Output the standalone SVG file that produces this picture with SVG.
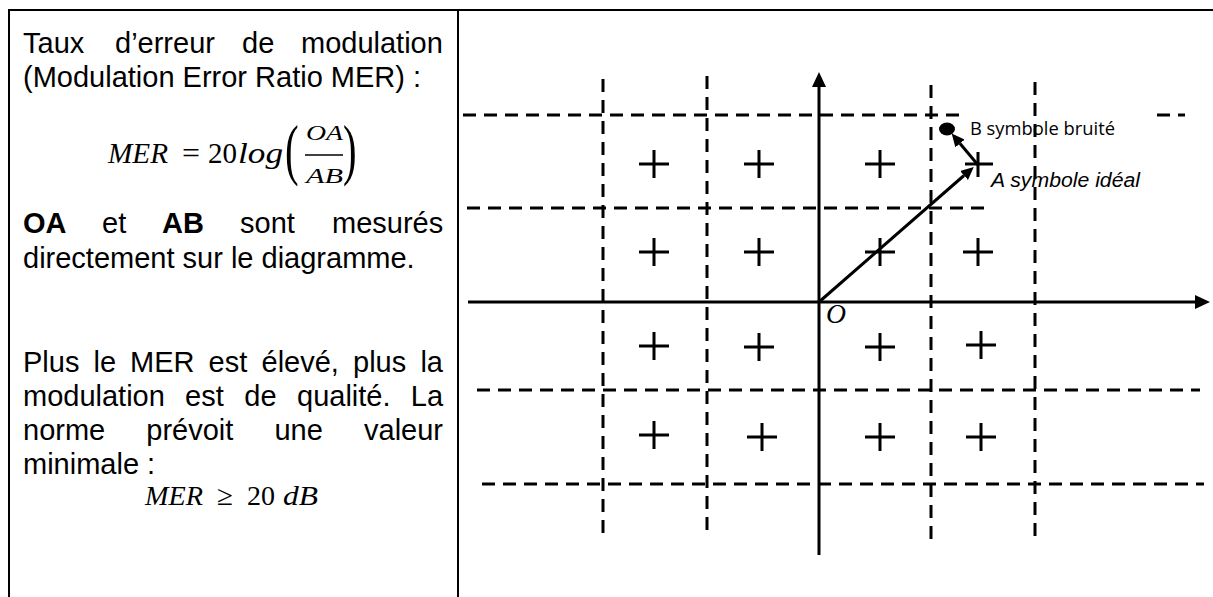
<svg xmlns="http://www.w3.org/2000/svg" width="1213" height="597" viewBox="0 0 1213 597">
<style>
.frame{stroke:#000;stroke-width:2;fill:none}
.t{font-family:"Liberation Sans",Arial,sans-serif;font-size:29px;fill:#000}
.b{font-weight:bold}
.m{font-family:"Liberation Serif","Times New Roman",serif;fill:#000}
.mi{font-style:italic}
.dash{stroke:#000;stroke-width:3;stroke-dasharray:13 8;fill:none}
.axis{stroke:#000;stroke-width:3;fill:none}
.vec{stroke:#000;stroke-width:3;fill:none}
.pt{stroke:#000;stroke-width:3;fill:none}
</style>
<defs>
<marker id="big" viewBox="0 0 15 14" refX="0" refY="7" markerWidth="15" markerHeight="14" markerUnits="userSpaceOnUse" orient="auto"><path d="M0,0 L15,7 L0,14 z" fill="#000"/></marker>
<marker id="small" viewBox="0 0 13 12" refX="0" refY="6" markerWidth="13" markerHeight="12" markerUnits="userSpaceOnUse" orient="auto"><path d="M0,0 L13,6 L0,12 z" fill="#000"/></marker>
<path id="plus" d="M-15,0 H15 M0,-14 V14"/>
</defs>
<rect width="1213" height="597" fill="#fff"/>
<g id="frame">
<path class="frame" d="M9,597 V10 H1213 M458,10 V597"/>
</g>
<g id="left-text">
<text class="t" y="53"><tspan x="23">Taux</tspan><tspan x="115">d’erreur</tspan><tspan x="242">de</tspan><tspan x="301">modulation</tspan></text>
<text class="t" x="23" y="87">(Modulation Error Ratio MER) :</text>
<g id="formula1">
<text class="m mi" x="108" y="163" font-size="30" textLength="60" lengthAdjust="spacingAndGlyphs">MER</text>
<text class="m" x="182" y="163" font-size="30" textLength="18" lengthAdjust="spacingAndGlyphs">=</text>
<text class="m" x="208" y="163" font-size="30" textLength="29" lengthAdjust="spacingAndGlyphs">20</text>
<text class="m mi" x="238" y="163" font-size="30" textLength="45" lengthAdjust="spacingAndGlyphs">log</text>
<text class="m" font-size="68" transform="translate(285,172) scale(0.6,1)">(</text>
<text class="m mi" x="306" y="140" font-size="21" textLength="37" lengthAdjust="spacingAndGlyphs">OA</text>
<line x1="305" y1="155" x2="343" y2="155" stroke="#000" stroke-width="1.6"/>
<text class="m mi" x="306" y="183" font-size="21" textLength="37" lengthAdjust="spacingAndGlyphs">AB</text>
<text class="m" font-size="68" transform="translate(343,172) scale(0.6,1)">)</text>
</g>
<text class="t" y="233"><tspan x="23" class="b">OA</tspan><tspan x="102">et</tspan><tspan x="162" class="b">AB</tspan><tspan x="240">sont</tspan><tspan x="332">mesurés</tspan></text>
<text class="t" x="23" y="268">directement sur le diagramme.</text>
<text class="t" y="372"><tspan x="23">Plus</tspan><tspan x="93.5">le</tspan><tspan x="130">MER</tspan><tspan x="208.5">est</tspan><tspan x="261.5">élevé,</tspan><tspan x="353">plus</tspan><tspan x="420.4">la</tspan></text>
<text class="t" y="406"><tspan x="23">modulation</tspan><tspan x="185">est</tspan><tspan x="244.3">de</tspan><tspan x="297">qualité.</tspan><tspan x="410.8">La</tspan></text>
<text class="t" y="440"><tspan x="23">norme</tspan><tspan x="146.3">prévoit</tspan><tspan x="274.4">une</tspan><tspan x="364">valeur</tspan></text>
<text class="t" x="23" y="474">minimale :</text>
<g id="formula2">
<text class="m mi" x="145" y="505" font-size="28" textLength="58" lengthAdjust="spacingAndGlyphs">MER</text>
<text class="m" x="217" y="505" font-size="28" textLength="16" lengthAdjust="spacingAndGlyphs">≥</text>
<text class="m" x="247" y="505" font-size="28" textLength="28" lengthAdjust="spacingAndGlyphs">20</text>
<text class="m mi" x="283" y="505" font-size="28" textLength="35" lengthAdjust="spacingAndGlyphs">dB</text>
</g>
</g>
<g id="grid">
<line class="dash" x1="463" y1="115" x2="962" y2="115"/>
<line class="dash" x1="1157" y1="115" x2="1185" y2="115"/>
<line class="dash" x1="467" y1="208" x2="990" y2="208"/>
<line class="dash" x1="477" y1="390" x2="1200" y2="390"/>
<line class="dash" x1="482" y1="484" x2="1204" y2="484"/>
<line class="dash" x1="603" y1="79" x2="603" y2="539"/>
<line class="dash" x1="707" y1="76" x2="707" y2="537"/>
<line class="dash" x1="931" y1="85" x2="931" y2="545"/>
<line class="dash" x1="1035" y1="82" x2="1035" y2="542"/>
</g>
<g id="points">
<use href="#plus" class="pt" x="654" y="164"/>
<use href="#plus" class="pt" x="759" y="164"/>
<use href="#plus" class="pt" x="880" y="164"/>
<use href="#plus" class="pt" x="654" y="252"/>
<use href="#plus" class="pt" x="759" y="252"/>
<use href="#plus" class="pt" x="880" y="252"/>
<use href="#plus" class="pt" x="978" y="252"/>
<use href="#plus" class="pt" x="654" y="346"/>
<use href="#plus" class="pt" x="759" y="347"/>
<use href="#plus" class="pt" x="880" y="347"/>
<use href="#plus" class="pt" x="981" y="345"/>
<use href="#plus" class="pt" x="654" y="435"/>
<use href="#plus" class="pt" x="762" y="437"/>
<use href="#plus" class="pt" x="880" y="437"/>
<use href="#plus" class="pt" x="981" y="437"/>
</g>
<g id="point-A">
<path class="pt" d="M965,164 H993 M978,152 V177"/>
<text x="991" y="187" font-family="Liberation Sans,Arial,sans-serif" font-style="italic" font-size="20" textLength="149" lengthAdjust="spacingAndGlyphs">A symbole idéal</text>
</g>
<g id="point-B">
<ellipse cx="947" cy="129" rx="8" ry="6.5" fill="#000"/>
<text x="970" y="135" font-family="'Open Sans',Lato,sans-serif" font-size="18" textLength="145" lengthAdjust="spacingAndGlyphs">B symbole bruité</text>
</g>
<g id="connectors">
<line class="axis" x1="468" y1="302" x2="1195" y2="302" marker-end="url(#big)"/>
<line class="axis" x1="819" y1="555" x2="819" y2="87" marker-end="url(#big)"/>
<line class="vec" x1="819" y1="302" x2="964" y2="175.5" marker-end="url(#small)"/>
<line class="vec" x1="978" y1="165" x2="960" y2="143.5" marker-end="url(#small)"/>
</g>
<text x="826" y="323" font-family="'Liberation Serif',serif" font-style="italic" font-size="27" textLength="20" lengthAdjust="spacingAndGlyphs">O</text>
</svg>
